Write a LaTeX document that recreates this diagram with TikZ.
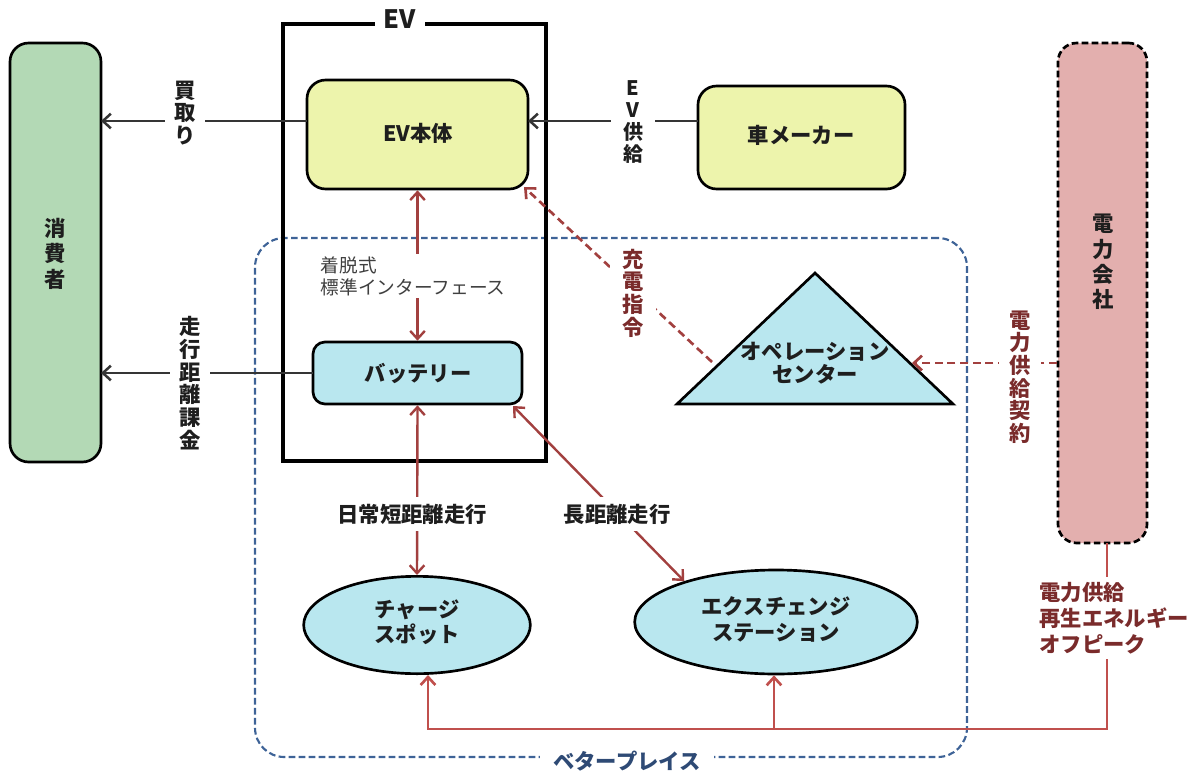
\documentclass[tikz,border=0pt]{standalone}
\usepackage{fontspec}
\setmainfont{Noto Sans CJK JP}
\usetikzlibrary{arrows.meta,fit,shapes.geometric}
\definecolor{cgreen}{HTML}{B3D9B5}
\definecolor{cyellow}{HTML}{EDF4AC}
\definecolor{cblue}{HTML}{B9E7EF}
\definecolor{cpink}{HTML}{E3AFAE}
\definecolor{cred}{HTML}{A2403F}
\definecolor{cline}{HTML}{C0504D}
\definecolor{cdark}{HTML}{7A2B2B}
\definecolor{cbp}{HTML}{3E6397}
\definecolor{cbptext}{HTML}{2E4A75}
\definecolor{ctext}{HTML}{1E1E1E}
\tikzset{
  rbox/.style={draw=black, line width=2pt, rounded corners=14pt, inner sep=0pt},
  lbl/.style={font=\bfseries\fontsize{16}{19}\selectfont, text=ctext, align=center, inner sep=1pt},
  vlbl/.style={font=\bfseries\fontsize{16}{17}\selectfont, text=ctext, align=center, fill=white, inner xsep=7pt, inner ysep=2pt},
  blk/.style={draw=ctext!90, line width=1.9pt},
  redl/.style={draw=cred, line width=1.8pt},
  redd/.style={draw=cred, line width=2pt, dash pattern=on 6pt off 3.5pt},
  bline/.style={draw=cline, line width=2pt},
}
\begin{document}
\begin{tikzpicture}[x=0.75pt,y=-0.75pt,>={Straight Barb[length=6pt,width=11pt]}]
\useasboundingbox (0,0) rectangle (1194,774);

% Better Place region
\node[draw=cbp, line width=1.6pt, dash pattern=on 5pt off 2.5pt, rounded corners=22pt, inner sep=0pt, fit={(255,238)(967,757)}] (bp) {};

% boxes
\node[rbox, fill=cgreen, fit={(10,43)(101,462)}] (cons) {};
\node[draw=black, line width=3pt, inner sep=0pt, fit={(283,24)(546,461)}] (ev) {};
\node[rbox, fill=cyellow, fit={(307,80)(528,189)}] (body) {};
\node[rbox, fill=cyellow, fit={(698,86)(905,189)}] (maker) {};
\node[rbox, fill=cpink, dash pattern=on 5pt off 2.5pt, fit={(1058,43)(1147,543)}] (pwr) {};
\node[rbox, rounded corners=9pt, fill=cblue, fit={(313,342)(522,404)}] (bat) {};
\node[draw=black, line width=2pt, ellipse, fill=cblue, minimum width=170pt, minimum height=73pt, inner sep=0pt] (cs) at (417,625) {};
\node[draw=black, line width=2pt, ellipse, fill=cblue, minimum width=212pt, minimum height=78pt, inner sep=0pt] (ex) at (776,622) {};
\draw[line width=2pt, fill=cblue, line join=miter] (815,273) coordinate (tapex) -- (953,404) coordinate (tr) -- (677,404) coordinate (tl) -- cycle;
\coordinate (opsR) at (912,363);
\coordinate (opsL) at (712,362);
\coordinate (bodyC) at (524,187);

% box texts
\node[lbl] at (cons.center) [yshift=-1pt] {消\\費\\者};
\node[font=\bfseries\fontsize{19}{20}\selectfont, text=ctext, fill=white, inner xsep=7pt, inner ysep=1pt] (evt) at (400,19) {EV};
\node[lbl] at (418,133) {EV本体};
\node[lbl] at (801,135) {車メーカー};
\node[lbl] at (1103,262) {電\\力\\会\\社};
\node[lbl] at (418,373) {バッテリー};
\node[lbl, font=\bfseries\fontsize{16}{18.5}\selectfont] at (417,622) {チャージ\\スポット};
\node[lbl, font=\bfseries\fontsize{16}{19.5}\selectfont] at (776,619) {エクスチェンジ\\ステーション};
\node[lbl, font=\bfseries\fontsize{16}{17.5}\selectfont] at (815,363) {オペレーション\\センター};

% connectors (black)
\coordinate (buyR) at (307,121);
\coordinate (buyL) at (101,121);
\draw[blk, ->] (buyR) -- (buyL);
\coordinate (runR) at (313,373);
\coordinate (runL) at (101,373);
\draw[blk, ->] (runR) -- (runL);
\coordinate (supR) at (698,121);
\coordinate (supL) at (528,121);
\draw[blk, ->] (supR) -- (supL);

% red connectors
\draw[redl, <->] (body.south) -- (bat.north);
\draw[redl, <->] (bat.south) -- (cs.north);
\coordinate (batSE) at (513,406);
\draw[redl, <->] (batSE) -- (ex.156);
\draw[redd, ->] (opsL) -- (bodyC);
\draw[redd, ->] (pwr.west |- opsR) -- (opsR);

% bottom supply lines
\coordinate (jL) at (428,729);
\coordinate (jM) at (774,729);
\coordinate (pwrB) at (1107,543);
\draw[bline, ->] (pwrB) |- (jL) -- (jL |- cs.south);
\draw[bline, ->] (jM) -- (jM |- ex.south);

% labels
\node[vlbl] at (185,113) {買\\取\\り};
\node[vlbl] at (190,383) {走\\行\\距\\離\\課\\金};
\node[vlbl, font=\bfseries\fontsize{15}{16.5}\selectfont, inner xsep=9pt] at (633,122) {E\\V\\供\\給};
\node[vlbl, text=cdark, inner xsep=9pt] at (633,293) {充\\電\\指\\令};
\node[vlbl, text=cdark, inner xsep=8pt] at (1020,377) {電\\力\\供\\給\\契\\約};
\node[fill=white, align=left, anchor=west, inner sep=2pt, text=ctext!85, font=\fontsize{14}{16.5}\selectfont] at (318,276) {着脱式\\標準インターフェース};
\node[lbl, fill=white, inner xsep=3pt, inner ysep=5pt] at (412,514) {日常短距離走行};
\node[lbl, fill=white, inner xsep=3pt, inner ysep=5pt] at (617,514) {長距離走行};
\node[lbl, fill=white, text=cdark, align=left, anchor=west, inner ysep=4pt, font=\bfseries\fontsize{16}{19.5}\selectfont] at (1038,618) {電力供給\\再生エネルギー\\オフピーク};
\node[lbl, fill=white, text=cbptext, inner xsep=10pt, inner ysep=1pt] at (627,761) {ベタープレイス};
\end{tikzpicture}
\end{document}
